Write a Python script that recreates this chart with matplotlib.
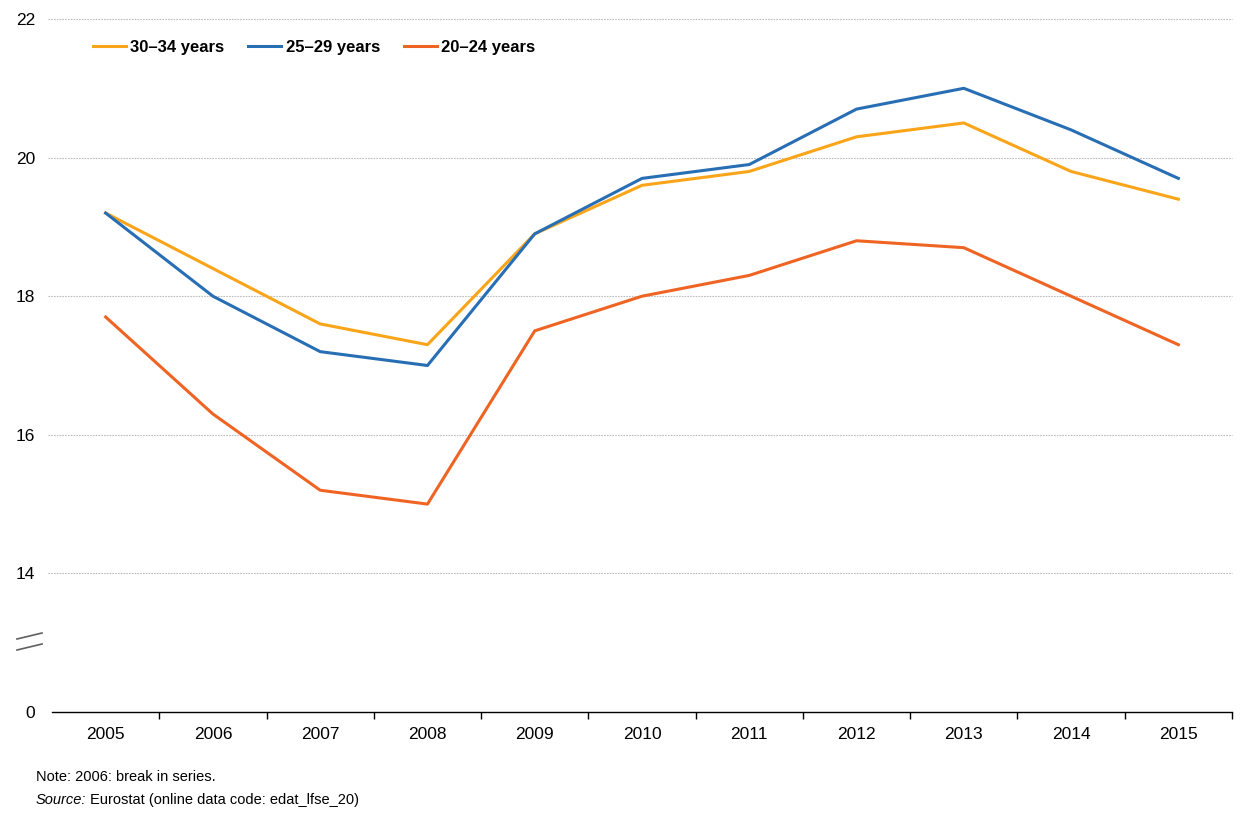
import numpy as np
import matplotlib
matplotlib.use('Agg')
import matplotlib.pyplot as plt
from matplotlib.lines import Line2D

plt.rcParams['font.family'] = ['Liberation Sans', 'DejaVu Sans']

# data
years = ['2005', '2006', '2007', '2008', '2009', '2010', '2011', '2012', '2013', '2014', '2015']
age_30_34 = [19.2, 18.4, 17.6, 17.3, 18.9, 19.6, 19.8, 20.3, 20.5, 19.8, 19.4]
age_25_29 = [19.2, 18.0, 17.2, 17.0, 18.9, 19.7, 19.9, 20.7, 21.0, 20.4, 19.7]
age_20_24 = [17.7, 16.3, 15.2, 15.0, 17.5, 18.0, 18.3, 18.8, 18.7, 18.0, 17.3]

y_ticks = [12, 14, 16, 18, 20, 22]
y_tick_labels = ['0', '14', '16', '18', '20', '22']

fig = plt.figure(figsize=(12.57, 8.24), dpi=100)
ax = fig.add_axes([52/1257, 1 - 712/824, (1232-52)/1257, (712-19)/824])

x = np.arange(len(years))
ax.plot(x, age_30_34, color='#FAA519', lw=2.2, label='30\u201334 years')
ax.plot(x, age_25_29, color='#286EB4', lw=2.2, label='25\u201329 years')
ax.plot(x, age_20_24, color='#F06423', lw=2.2, label='20\u201324 years')

ax.set_xlim(-0.5, len(years) - 0.5)
ax.set_ylim(12, 22)

# grid lines (not at the broken-axis zero)
for v in y_ticks[1:]:
    ax.axhline(v, color='#BDBDBD', lw=0.8, ls=(0, (1.5, 1)), zorder=0, xmin=-4/1180, clip_on=False)

ax.set_yticks(y_ticks)
ax.set_yticklabels(y_tick_labels)
ax.tick_params(axis='y', length=0, pad=12, labelsize=12.5)

ax.set_xticks(x)
ax.set_xticklabels(years)
ax.set_xticks(np.arange(0.5, len(years)), minor=True)
ax.tick_params(axis='x', which='major', length=0, pad=11, labelsize=12.5)
ax.tick_params(axis='x', which='minor', length=5, direction='out', width=1, color='black')

for s in ['left', 'right', 'top']:
    ax.spines[s].set_visible(False)
ax.spines['bottom'].set_color('black')
ax.spines['bottom'].set_linewidth(1)

leg = ax.legend(loc='upper left', bbox_to_anchor=(26/1180, 0.992), ncol=3, frameon=False,
                handlelength=1.95, handletextpad=0.28, columnspacing=1.45,
                prop={'weight': 'bold', 'size': 12})

# axis break marks
for y0 in (639, 650):
    fig.add_artist(Line2D([17/1257, 42/1257], [1 - y0/824, 1 - (y0 - 6)/824],
                          color='#606060', lw=1.2))

fig.text(36/1257, 1 - 777/824, 'Note: 2006: break in series.', fontsize=10.5, va='center')
fig.text(36/1257, 1 - 800/824, 'Source:', fontsize=10.5, va='center', style='italic')
fig.text(90/1257, 1 - 800/824, 'Eurostat (online data code: edat_lfse_20)', fontsize=10.5, va='center')

fig.savefig('out.png', dpi=100)
